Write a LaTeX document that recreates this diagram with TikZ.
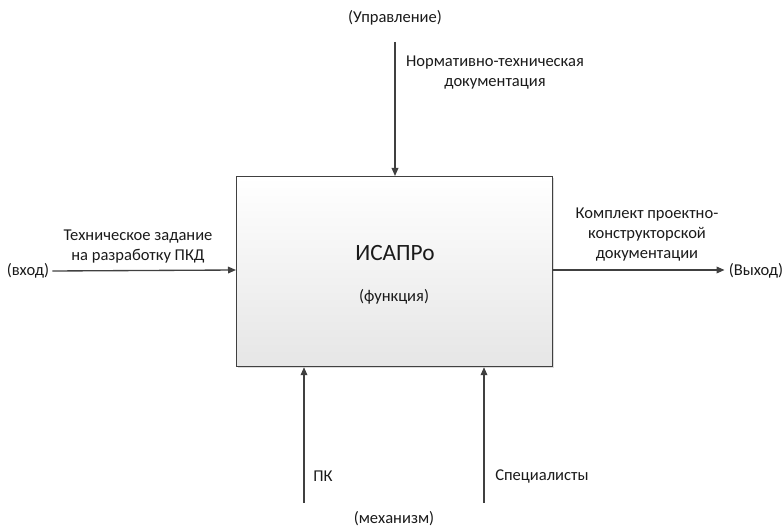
\documentclass[tikz,border=0pt]{standalone}
\usepackage{fontspec}
\setmainfont{Carlito}
\usetikzlibrary{arrows.meta,shadows}
\definecolor{ln}{HTML}{404040}
\definecolor{tx}{HTML}{1A1A1A}
\begin{document}
\begin{tikzpicture}[x=0.75pt,y=-0.75pt,
  conn/.style={draw=ln,line width=1pt,-{Triangle[length=6pt,width=5pt]}},
  lbl/.style={text=tx,font=\fontsize{12.4pt}{15pt}\selectfont,align=center,inner sep=0pt},
  fbox/.style={draw=ln,line width=0.9pt,top color=white,bottom color=black!10,
    drop shadow={shadow xshift=1.2pt,shadow yshift=-1.2pt,opacity=0.35,fill=black!40}}]
\useasboundingbox (0,0) rectangle (783,527);
\node[fbox,minimum width=316*0.75pt,minimum height=190*0.75pt,inner sep=0pt,anchor=north west] (f) at (236,176) {};
\node[lbl,font=\fontsize{17.5pt}{20pt}\selectfont] (t1) at (395,253) {ИСАПРо};
\node[lbl] (t2) at (394,297) {(функция)};
% control
\node[lbl] (ctl) at (395,18) {(Управление)};
\coordinate (cs) at (395,42);
\draw[conn] (cs) -- (cs |- f.north);
\node[lbl] (cl) at (495,73) {Нормативно-техническая\\документация};
% input
\node[lbl] (in) at (28,271) {(вход)};
\draw[conn] (in.east)+(3,0) -- (f.west |- 0,270);
\node[lbl] (il) at (138,247) {Техническое задание\\на разработку ПКД};
% output
\node[lbl] (out) at (756,271) {(Выход)};
\draw[conn] (f.east |- 0,270) -- ([xshift=-3]out.west |- 0,270);
\node[lbl] (ol) at (647,235) {Комплект проектно-\\конструкторской\\документации};
% mechanisms
\coordinate (m1) at (304,503);
\coordinate (m2) at (484,503);
\draw[conn] (m1) -- (m1 |- f.south);
\draw[conn] (m2) -- (m2 |- f.south);
\node[lbl,anchor=west] (pk) at (313,476) {ПК};
\node[lbl,anchor=west] (sp) at (495,476) {Специалисты};
\node[lbl] (mech) at (394,519) {(механизм)};
\end{tikzpicture}
\end{document}
